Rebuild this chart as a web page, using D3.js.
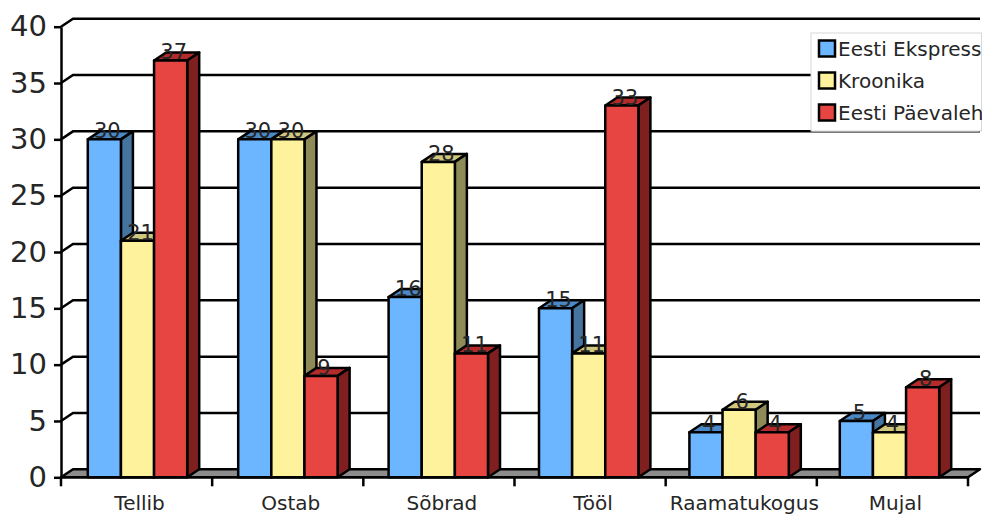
<!DOCTYPE html>
<html>
<head>
<meta charset="utf-8">
<script src="https://cdn.jsdelivr.net/npm/d3@7"></script>
<style>
  html, body { margin: 0; padding: 0; background: #fff; }
  text { font-family: "DejaVu Sans", sans-serif; fill: #262626; }
</style>
</head>
<body>
<svg id="chart"></svg>
<script>
const categories = ["Tellib", "Ostab", "Sõbrad", "Tööl", "Raamatukogus", "Mujal"];
const seriesNames = ["Eesti Ekspress", "Kroonika", "Eesti Päevaleht"];
const ekspress = [30, 30, 16, 15, 4, 5];
const kroonika = [21, 30, 28, 11, 6, 4];
const paevaleht = [37, 9, 11, 33, 4, 8];
const yTicks = [0, 5, 10, 15, 20, 25, 30, 35, 40];

const seriesValues = [ekspress, kroonika, paevaleht];
const frontColors = ["#6cb6ff", "#fff29c", "#e64541"];
const topColors = ["#4a88c6", "#cfc77e", "#b32c2b"];
const sideColors = ["#45749f", "#8f8b58", "#801f20"];

const width = 987, height = 514;
const depthX = 12, depthY = 8; //fake 3d offset
const lineW = 2.5;

const svg = d3.select("#chart")
    .attr("width", width)
    .attr("height", height)
    .style("display", "block");

const y = d3.scaleLinear().domain([0, 40]).range([477.3, 26.7]);
const xAxisScale = d3.scaleBand().domain(categories).range([61, 968]);
//bars sit on a slightly tighter step than the axis ticks
const xGroup = d3.scaleBand().domain(categories).range([61.2, 963.6]);
const xBar = d3.scaleBand().domain(d3.range(3)).range([26.6, 126]);

//floor
const x0 = xAxisScale.range()[0], x1 = xAxisScale.range()[1];
svg.append("path")
    .attr("d", `M${x0},${y(0)}L${x0 + depthX},${y(0) - depthY}H${x1 + depthX}L${x1},${y(0)}Z`)
    .attr("fill", "#8c8c8c")
    .attr("stroke", "#000")
    .attr("stroke-width", lineW)
    .attr("stroke-linejoin", "round");

//back gridlines with the diagonal on the side wall
svg.append("g").selectAll("path")
    .data(yTicks.filter(d => d > 0))
    .join("path")
    .attr("d", d => `M${x0},${y(d)}L${x0 + depthX},${y(d) - depthY}H${x1 + depthX}`)
    .attr("fill", "none")
    .attr("stroke", "#000")
    .attr("stroke-width", lineW);

//y axis
const yAxis = svg.append("g")
    .attr("transform", `translate(${x0},0)`)
    .call(d3.axisLeft(y).tickValues(yTicks).tickSize(7).tickPadding(7).tickSizeOuter(0));
yAxis.selectAll("path, line").attr("stroke", "#000").attr("stroke-width", lineW);
yAxis.selectAll("text").style("font-size", "29px").attr("fill", "#262626");

//x axis, ticks sit between the categories
const xAxis = svg.append("g").attr("transform", `translate(0,${y(0)})`);
xAxis.append("line")
    .attr("x1", x0).attr("x2", x1)
    .attr("stroke", "#000").attr("stroke-width", lineW);
xAxis.selectAll(".sep")
    .data(categories.concat(["end"]))
    .join("line")
    .attr("class", "sep")
    .attr("x1", (d, i) => x0 + i * xAxisScale.step())
    .attr("x2", (d, i) => x0 + i * xAxisScale.step())
    .attr("y1", 0).attr("y2", 9)
    .attr("stroke", "#000").attr("stroke-width", lineW);
xAxis.selectAll(".cat")
    .data(categories)
    .join("text")
    .attr("class", "cat")
    .attr("x", d => xAxisScale(d) + xAxisScale.bandwidth() / 2 + 3)
    .attr("y", 32.5)
    .attr("text-anchor", "middle")
    .style("font-size", "20px")
    .text(d => d);

//bars, one series after the other so that the next bar hides the side of the last
const barData = [];
seriesValues.forEach((values, s) => {
    values.forEach((v, c) => barData.push({ s, c, v }));
});
const barX = d => xGroup(categories[d.c]) + xBar(d.s);

const bars = svg.append("g").selectAll("g")
    .data(barData)
    .join("g")
    .attr("stroke", "#000")
    .attr("stroke-width", lineW)
    .attr("stroke-linejoin", "round");

bars.append("path") //top
    .attr("d", d => {
        const a = barX(d), w = xBar.bandwidth(), t = y(d.v);
        return `M${a},${t}l${depthX},${-depthY}h${w}l${-depthX},${depthY}Z`;
    })
    .attr("fill", d => topColors[d.s]);
bars.append("path") //side
    .attr("d", d => {
        const a = barX(d) + xBar.bandwidth(), t = y(d.v), b = y(0);
        return `M${a},${t}l${depthX},${-depthY}V${b - depthY}l${-depthX},${depthY}Z`;
    })
    .attr("fill", d => sideColors[d.s]);
bars.append("rect") //front
    .attr("x", barX)
    .attr("y", d => y(d.v))
    .attr("width", xBar.bandwidth())
    .attr("height", d => y(0) - y(d.v))
    .attr("fill", d => frontColors[d.s]);

//value labels go on top of all bars
svg.append("g").selectAll("text")
    .data(barData)
    .join("text")
    .attr("x", d => barX(d) + xBar.bandwidth() / 2 + 3)
    .attr("y", d => y(d.v) - 1)
    .attr("text-anchor", "middle")
    .style("font-size", "21px")
    .text(d => d.v);

//legend, its text runs past the box and gets cut off
svg.append("clipPath").attr("id", "legendClip")
    .append("rect").attr("x", 811).attr("y", 32).attr("width", 171).attr("height", 100);

svg.append("rect")
    .attr("x", 812).attr("y", 34)
    .attr("width", 167).attr("height", 98.5)
    .attr("fill", "#777");
svg.append("rect")
    .attr("x", 811).attr("y", 33)
    .attr("width", 170.5).attr("height", 98)
    .attr("fill", "#fff")
    .attr("stroke", "#d8d8d8");

const legendY = d3.scalePoint().domain(seriesNames).range([48.5, 112.5]);
const legend = svg.append("g").attr("clip-path", "url(#legendClip)");
legend.selectAll("rect")
    .data(seriesNames)
    .join("rect")
    .attr("x", 819)
    .attr("y", d => legendY(d) - 8)
    .attr("width", 16).attr("height", 16)
    .attr("fill", (d, i) => frontColors[i])
    .attr("stroke", "#000")
    .attr("stroke-width", lineW);
legend.selectAll("text")
    .data(seriesNames)
    .join("text")
    .attr("x", 838)
    .attr("y", d => legendY(d) + 7)
    .style("font-size", "20px")
    .text(d => d);
</script>
</body>
</html>
